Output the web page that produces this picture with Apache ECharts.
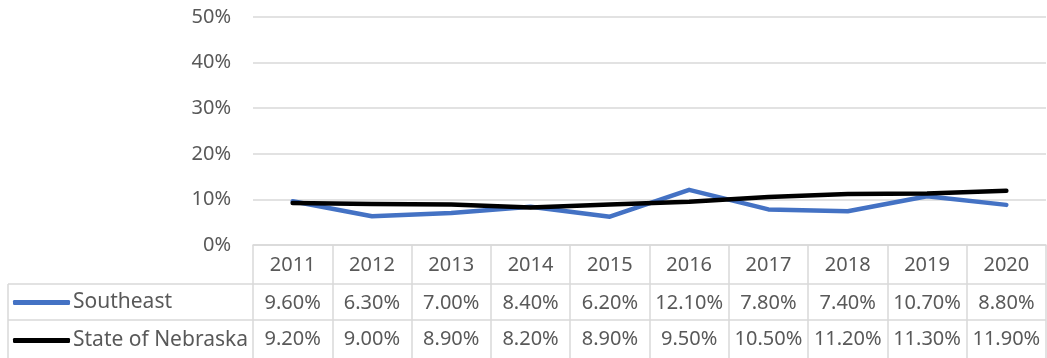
<!DOCTYPE html>
<html>
<head>
<meta charset="utf-8">
<script src="https://cdn.jsdelivr.net/npm/echarts@6/dist/echarts.min.js"></script>
<style>
  html, body { margin: 0; padding: 0; background: #fff; }
  #chart { width: 1047px; height: 358px; }
</style>
</head>
<body>
<div id="chart"></div>
<script>
// Annual rates by region, 2011–2020
const years = ['2011', '2012', '2013', '2014', '2015', '2016', '2017', '2018', '2019', '2020'];
const southeast = [9.6, 6.3, 7.0, 8.4, 6.2, 12.1, 7.8, 7.4, 10.7, 8.8];
const nebraska = [9.2, 9.0, 8.9, 8.2, 8.9, 9.5, 10.5, 11.2, 11.3, 11.9];
const yTicks = [0, 10, 20, 30, 40, 50];

const FONT = 'Noto Sans';
const GREY = '#595959';
const RULE = '#d9d9d9';
const BLUE = '#4472C4';
const BLACK = '#000000';

const GRID_LEFT = 253, GRID_RIGHT = 1, GRID_TOP = 17, GRID_BOTTOM = 113;
const W = 1047, H = 358;

const pct = v => v.toFixed(2) + '%';

// one extra x axis per data-table row, printing that series' values under each year
function tableRow(values, offset) {
  return {
    type: 'category', data: years, gridIndex: 0, position: 'bottom', offset: offset,
    axisLine: { show: false }, axisTick: { show: false }, splitLine: { show: false },
    axisLabel: {
      interval: 0, hideOverlap: false,
      margin: 9, fontFamily: FONT, fontSize: 20, color: GREY,
      formatter: (v, i) => pct(values[i])
    }
  };
}

const chart = echarts.init(document.getElementById('chart'), null, { renderer: 'canvas' });
chart.setOption({
  animation: false,
  backgroundColor: '#fff',
  grid: { left: GRID_LEFT, right: GRID_RIGHT, top: GRID_TOP, bottom: GRID_BOTTOM, containLabel: false },
  xAxis: [
    {
      type: 'category', data: years, boundaryGap: true,
      axisLine: { show: true, lineStyle: { color: RULE, width: 1.5 } },
      axisTick: { show: true, interval: 0, alignWithLabel: false, length: GRID_BOTTOM, lineStyle: { color: RULE, width: 1.5 } },
      axisLabel: { interval: 0, hideOverlap: false, margin: 10, fontFamily: FONT, fontSize: 20, color: GREY },
      splitLine: { show: false }
    },
    tableRow(southeast, 39),
    tableRow(nebraska, 75)
  ],
  yAxis: {
    type: 'value', min: yTicks[0], max: yTicks[yTicks.length - 1], interval: 10,
    axisLine: { show: false }, axisTick: { show: false },
    axisLabel: { margin: 22, fontFamily: FONT, fontSize: 20, color: GREY, formatter: v => v + '%' },
    splitLine: { lineStyle: { color: RULE, width: 1.5 } }
  },
  legend: {
    orient: 'vertical', left: 13, top: 292, itemGap: 17, padding: 0,
    itemWidth: 57, itemHeight: 5, icon: 'roundRect',
    textStyle: { fontFamily: FONT, fontSize: 21, color: GREY, lineHeight: 20, padding: [0, 0, 0, -2] },
    data: ['Southeast', 'State of Nebraska']
  },
  series: [
    {
      name: 'Southeast', type: 'line', data: southeast, xAxisIndex: 0,
      symbol: 'none', color: BLUE,
      lineStyle: { color: BLUE, width: 4.5, cap: 'round', join: 'round' }
    },
    {
      name: 'State of Nebraska', type: 'line', data: nebraska, xAxisIndex: 0,
      symbol: 'none', color: BLACK,
      lineStyle: { color: BLACK, width: 4.5, cap: 'round', join: 'round' }
    }
  ],
  // outer rules of the data table (row separators and the legend column's edge)
  graphic: [
    { type: 'line', shape: { x1: 8, y1: 284, x2: W - GRID_RIGHT, y2: 284 }, style: { stroke: RULE, lineWidth: 1.5 }, silent: true },
    { type: 'line', shape: { x1: 8, y1: 320, x2: W - GRID_RIGHT, y2: 320 }, style: { stroke: RULE, lineWidth: 1.5 }, silent: true },
    { type: 'line', shape: { x1: 8, y1: 284, x2: 8, y2: H }, style: { stroke: RULE, lineWidth: 1.5 }, silent: true }
  ]
});
</script>
</body>
</html>
